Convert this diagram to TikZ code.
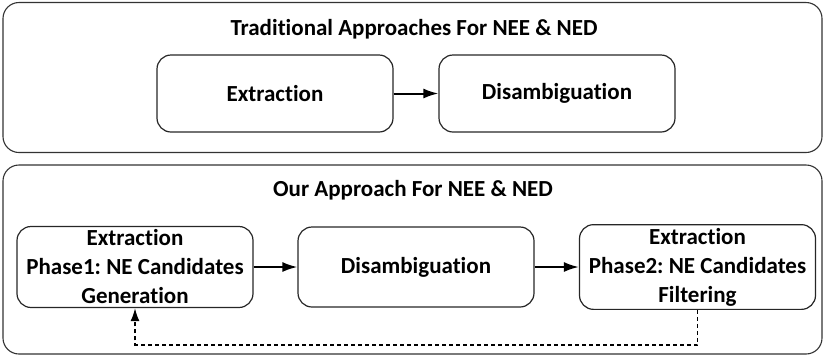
\documentclass[tikz,border=0pt]{standalone}
\usepackage{fontspec}
\setmainfont{Carlito}[Ligatures=NoCommon]
\usetikzlibrary{arrows.meta}
\frenchspacing

\begin{document}
\begin{tikzpicture}
      [ x=1pt, y=-1pt
      , frame/.style={draw=black!80, rounded corners=16pt, line width=1.1pt, minimum width=819pt}
      , stage/.style={draw=black!85, rounded corners=14pt, line width=1.2pt, minimum width=236pt, align=center, font=\fontsize{23}{29}\selectfont\bfseries}
      , heading/.style={font=\fontsize{23}{27}\selectfont\bfseries}
      , direct/.style={black, draw, line width=2pt, -{Latex[length=15pt, width=10pt]}}
      , feedback/.style={black, draw, line width=1.7pt, dash pattern=on 4pt off 3pt, -{Latex[length=13pt, width=9pt]}}
      ]
    \useasboundingbox (0,0) rectangle (826,357);

    \node[frame, minimum height=150pt] (Trad) at (412.5, 77.5) {};
    \node[frame, minimum height=189pt] (Ours) at (412.5, 259.5) {};

    \node[heading] (TT) at (414, 29) {Traditional Approaches For NEE \& NED};
    \node[stage, minimum height=77pt] (TE) at (275, 93.5) {Extraction};
    \node[stage, minimum height=77pt] (TD) at (557, 93.5) {Disambiguation};

    \node[heading] (OT) at (413, 190) {Our Approach For NEE \& NED};
    \node[stage, minimum height=80pt] (E1) at (135, 267) {Extraction\\Phase1: NE Candidates\\Generation};
    \node[stage, minimum height=80pt] (OD) at (416, 267) {Disambiguation};
    \node[stage, minimum height=80pt] (E2) at (697.5, 267) {Extraction\\Phase2: NE Candidates\\Filtering};

    \draw[direct]
    (TE) edge (TD)

    (E1) edge (OD)
    (OD) edge (E2);

    \draw[feedback] (E2.south) -- ++(0,35) -| (E1.south);
    \end{tikzpicture}
\end{document}
